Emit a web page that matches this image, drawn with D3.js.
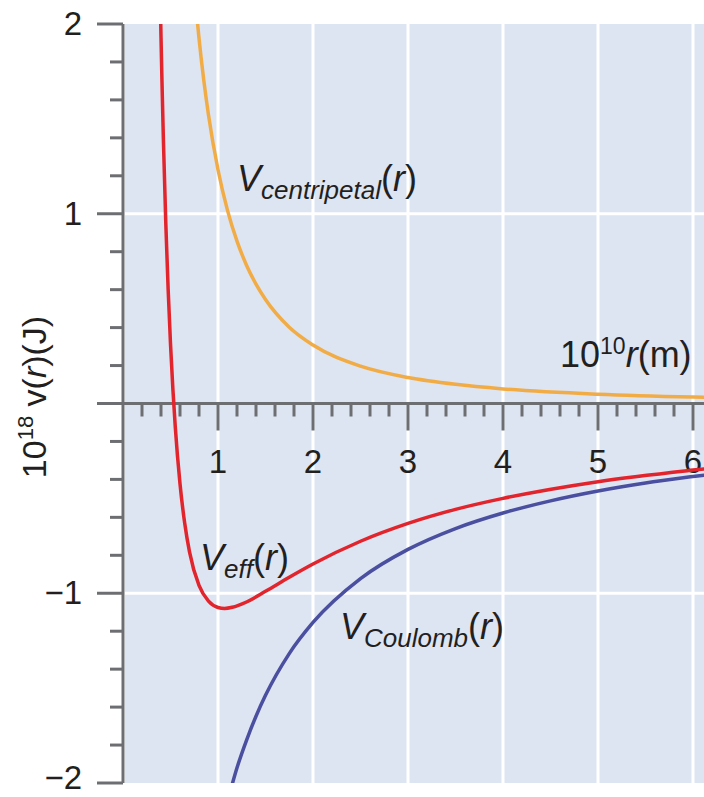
<!DOCTYPE html>
<meta charset="utf-8">
<head>
  <title>Effective potential</title>
  <style>
    body { margin: 0; background: #fff; }
    text { font-family: "Liberation Sans", Arial, sans-serif; fill: #231f20; }
  </style>
</head>
<body>
<script src="https://cdn.jsdelivr.net/npm/d3@7"></script>
<script>
var WIDTH = 704,
    HEIGHT = 797;

// values (r in 1e-10 m, V in 1e-18 J)
var rCoulomb = [1.15, 1.2, 1.3, 1.4, 1.5, 1.75, 2, 2.5, 3, 3.5, 4, 4.5, 5, 5.5, 6, 6.4];
var vCoulomb = [-2.006, -1.92, -1.775, -1.648, -1.538, -1.318, -1.154, -0.923, -0.769, -0.659, -0.577, -0.513, -0.461, -0.419, -0.385, -0.36];

var rCentripetal = [0.77, 0.8, 0.85, 0.9, 1.0, 1.1, 1.2, 1.3, 1.4, 1.5, 1.75, 2, 2.5, 3, 3.5, 4, 5, 6, 6.4];
var vCentripetal = [2.08, 1.925, 1.705, 1.521, 1.232, 1.018, 0.856, 0.729, 0.629, 0.548, 0.402, 0.308, 0.197, 0.137, 0.101, 0.077, 0.049, 0.034, 0.03];

var rEff = [0.39, 0.4, 0.41, 0.425, 0.45, 0.475, 0.5, 0.525, 0.55, 0.6, 0.65, 0.7, 0.8, 0.9, 1.0, 1.07, 1.15, 1.3, 1.5, 1.75, 2, 2.5, 3, 3.5, 4, 5, 6, 6.4];
var vEff = [2.185, 1.932, 1.702, 1.393, 0.957, 0.604, 0.314, 0.076, -0.122, -0.423, -0.633, -0.782, -0.959, -1.042, -1.075, -1.08, -1.074, -1.046, -0.99, -0.916, -0.846, -0.726, -0.632, -0.558, -0.5, -0.412, -0.351, -0.33];

var xTickLabels = [1, 2, 3, 4, 5, 6];
var yTickLabels = [2, 1, -1, -2];

var svg = d3.select("body").append("svg")
    .attr("width", WIDTH)
    .attr("height", HEIGHT);

var x = d3.scaleLinear().domain([0, 6.4]).range([123, 731]);
var y = d3.scaleLinear().domain([-2, 2]).range([783, 24]);

var plotLeft = 125, plotTop = y(2), plotBottom = y(-2);

// plot background
svg.append("rect")
    .attr("x", plotLeft).attr("y", plotTop)
    .attr("width", WIDTH - plotLeft).attr("height", plotBottom - plotTop)
    .attr("fill", "#dde4f2");

svg.append("clipPath").attr("id", "plot")
  .append("rect")
    .attr("x", plotLeft).attr("y", plotTop)
    .attr("width", WIDTH - plotLeft).attr("height", plotBottom - plotTop);

// white grid
svg.selectAll(".vgrid").data(xTickLabels).enter().append("line")
    .attr("x1", function(d) { return x(d); })
    .attr("x2", function(d) { return x(d); })
    .attr("y1", plotTop).attr("y2", plotBottom)
    .attr("stroke", "#fff").attr("stroke-width", 3);

svg.selectAll(".hgrid").data([1, -1]).enter().append("line")
    .attr("x1", plotLeft).attr("x2", WIDTH)
    .attr("y1", function(d) { return y(d); })
    .attr("y2", function(d) { return y(d); })
    .attr("stroke", "#fff").attr("stroke-width", 3);

// axes
var axisColor = "#6d6e71";

svg.append("line")
    .attr("x1", 123).attr("x2", 123)
    .attr("y1", plotTop).attr("y2", plotBottom)
    .attr("stroke", axisColor).attr("stroke-width", 3);

var yMinor = d3.range(-2, 2.001, 0.2).map(function(d) { return +d.toFixed(1); })
    .filter(function(d) { return Math.abs(d % 1) > 0.01; });

svg.selectAll(".ytick").data(yMinor).enter().append("line")
    .attr("x1", 110).attr("x2", 123)
    .attr("y1", function(d) { return y(d); })
    .attr("y2", function(d) { return y(d); })
    .attr("stroke", axisColor).attr("stroke-width", 3);

svg.selectAll(".ymajor").data(yTickLabels).enter().append("line")
    .attr("x1", 97).attr("x2", 123)
    .attr("y1", function(d) { return y(d); })
    .attr("y2", function(d) { return y(d); })
    .attr("stroke", axisColor).attr("stroke-width", 3);

svg.append("line")
    .attr("x1", 97).attr("x2", WIDTH)
    .attr("y1", y(0)).attr("y2", y(0))
    .attr("stroke", axisColor).attr("stroke-width", 3);

var xMinor = d3.range(0.2, 6.4, 0.2).map(function(d) { return +d.toFixed(1); })
    .filter(function(d) { return Math.abs(d % 1) > 0.01 && Math.abs(d % 1) < 0.99; });

svg.selectAll(".xtick").data(xMinor).enter().append("line")
    .attr("x1", function(d) { return x(d); })
    .attr("x2", function(d) { return x(d); })
    .attr("y1", y(0)).attr("y2", y(0) + 13)
    .attr("stroke", axisColor).attr("stroke-width", 3);

svg.selectAll(".xmajor").data(xTickLabels).enter().append("line")
    .attr("x1", function(d) { return x(d); })
    .attr("x2", function(d) { return x(d); })
    .attr("y1", y(0)).attr("y2", y(0) + 27)
    .attr("stroke", axisColor).attr("stroke-width", 3);

// tick labels
svg.selectAll(".xlabel").data(xTickLabels).enter().append("text")
    .attr("x", function(d) { return x(d); })
    .attr("y", 473)
    .attr("text-anchor", "middle")
    .attr("font-size", 33)
    .text(function(d) { return d; });

svg.selectAll(".ylabel").data(yTickLabels).enter().append("text")
    .attr("x", 82)
    .attr("y", function(d) { return Math.min(y(d) + 11, 789); })
    .attr("text-anchor", "end")
    .attr("font-size", 33)
    .text(function(d) { return d < 0 ? "\u2212" + Math.abs(d) : d; });

// curves
var line = d3.line()
    .x(function(d) { return x(d[0]); })
    .y(function(d) { return y(d[1]); })
    .curve(d3.curveMonotoneX);

var curves = svg.append("g").attr("clip-path", "url(#plot)");

curves.append("path").datum(d3.zip(rCentripetal, vCentripetal))
    .attr("d", line).attr("fill", "none")
    .attr("stroke", "#f2ac45").attr("stroke-width", 3.5);

curves.append("path").datum(d3.zip(rCoulomb, vCoulomb))
    .attr("d", line).attr("fill", "none")
    .attr("stroke", "#4a4f9f").attr("stroke-width", 3.5);

curves.append("path").datum(d3.zip(rEff, vEff))
    .attr("d", line).attr("fill", "none")
    .attr("stroke", "#e2242c").attr("stroke-width", 3.5);

// curve labels
function potentialLabel(px, py, sub) {
  var t = svg.append("text").attr("x", px).attr("y", py).attr("font-size", 36);
  t.append("tspan").attr("font-style", "italic").text("V");
  t.append("tspan").attr("font-style", "italic").attr("font-size", 26)
      .attr("dy", 8).text(sub);
  t.append("tspan").attr("dy", -8).text("(");
  t.append("tspan").attr("font-style", "italic").text("r");
  t.append("tspan").text(")");
}

potentialLabel(237, 191, "centripetal");
potentialLabel(200, 570, "eff");
potentialLabel(340, 639, "Coulomb");

var xt = svg.append("text").attr("x", 560).attr("y", 367).attr("font-size", 36);
xt.append("tspan").text("10");
xt.append("tspan").attr("font-size", 23).attr("dy", -13).text("10");
xt.append("tspan").attr("dy", 13).attr("font-style", "italic").text("r");
xt.append("tspan").text("(m)");

var yt = svg.append("text")
    .attr("transform", "translate(46,397) rotate(-90)")
    .attr("text-anchor", "middle")
    .attr("font-size", 34);
yt.append("tspan").text("10");
yt.append("tspan").attr("font-size", 22).attr("dy", -13).text("18");
yt.append("tspan").attr("dy", 13).text(" v(");
yt.append("tspan").attr("font-style", "italic").text("r");
yt.append("tspan").text(")(J)");
</script>
</body>
